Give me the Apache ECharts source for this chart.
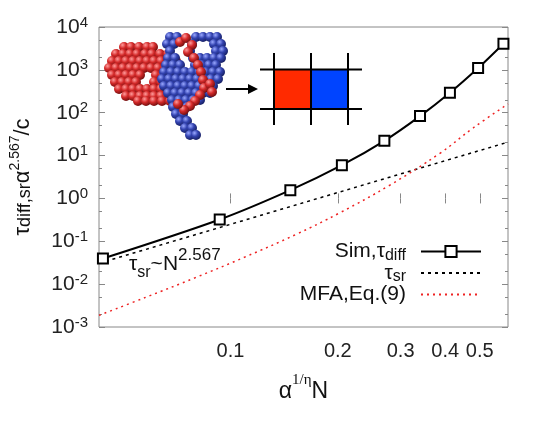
<!DOCTYPE html>
<html>
<head>
<meta charset="utf-8">
<script src="https://cdn.jsdelivr.net/npm/echarts@6/dist/echarts.min.js"></script>
<style>
  html, body { margin: 0; padding: 0; background: #fff; }
  #chart { width: 550px; height: 423px; }
</style>
</head>
<body>
<div id="chart"></div>
<script>
// x range of the plot
var xMin = 0.0428, xMax = 0.6;
var yMin = 0.001, yMax = 10000;

// simulation, tau_diff
var simX = [0.0439, 0.0933, 0.1472, 0.2053, 0.2701, 0.340, 0.4124, 0.4947, 0.5826];
var simY = [0.0395, 0.322, 1.56, 5.97, 22.1, 83.4, 292, 1102, 4074];

// tau_sr ~ N^2.567 (straight dashed line)
var srX = [0.0428, 0.6];
var srY = [0.0307, 20.6];

// MFA, Eq.(9)
var mfaX = [0.0428, 0.0578, 0.0798, 0.110, 0.152, 0.203, 0.280, 0.3866, 0.479, 0.600];
var mfaY = [0.00187, 0.00491, 0.0142, 0.0432, 0.142, 0.466, 2.05, 11.3, 44, 160];

// tick positions
var xTicks = [0.1, 0.2, 0.3, 0.4, 0.5];
var yMajor = [0.001, 0.01, 0.1, 1, 10, 100, 1000, 10000];
var yMinor = [0.002, 0.005, 0.02, 0.05, 0.2, 0.5, 2, 5, 20, 50, 200, 500, 2000, 5000];

var FONT = 'Liberation Sans';
var tickColor = '#888';

function pairs(xs, ys) {
    var out = [];
    for (var i = 0; i < xs.length; i++) out.push([xs[i], ys[i]]);
    return out;
}
function logs(arr) { return arr.map(function (v) { return Math.log10(v); }); }

// extra value axes (in log10 space) used only for ticks and labels
function tickAxis(pos, min, max, vals, len, labels) {
    return {
        type: 'value', position: pos, min: min, max: max,
        axisLine: { show: false },
        splitLine: { show: false },
        axisTick: { show: true, inside: true, length: len, customValues: vals,
            lineStyle: { color: tickColor, width: 1 } },
        axisLabel: labels || { show: false }
    };
}

var mychart = echarts.init(document.getElementById('chart'));

// inset: polymer made of spheres
var redRows = [
    [47, [124, 131, 139, 147, 153]],
    [54, [116, 123, 130, 137, 145, 152, 160, 168]],
    [61, [112, 119, 126, 133, 140, 147, 154, 161, 169, 176]],
    [68, [109, 116, 123, 130, 137, 144, 151, 158, 165, 172]],
    [75, [112, 119, 126, 133, 140, 156, 163, 170]],
    [82, [115, 122, 129, 136, 154, 161, 168]],
    [89, [119, 126, 133, 140, 147, 154, 161, 168, 175]],
    [96, [126, 133, 140, 147, 154, 161, 168, 176]],
    [101, [138, 146, 154, 162, 170]]
];
var blueRows = [
    [37, [170, 177, 196, 203, 210, 217]],
    [44, [167, 174, 192, 214, 221]],
    [51, [170, 190, 216, 223]],
    [58, [168, 175, 193, 200, 207, 214, 221]],
    [65, [166, 173, 180, 195, 202, 209, 216]],
    [72, [164, 171, 178, 185, 192, 199, 206, 213, 220]],
    [79, [162, 169, 176, 183, 190, 197, 204, 211, 218]],
    [86, [164, 171, 178, 185, 192, 199, 206, 213]],
    [93, [168, 175, 182, 189, 196, 203, 210]],
    [100, [172, 179, 186, 193, 200]],
    [107, [173, 180, 187]],
    [114, [176, 183]],
    [121, [180, 187]],
    [128, [185, 192]],
    [135, [190, 196]]
];
var redStrand = [[180, 42], [186, 38], [192, 45], [188, 52], [194, 58], [198, 65], [201, 72],
    [203, 80], [204, 88], [200, 95], [195, 101], [190, 106], [184, 110], [178, 104], [210, 84], [212, 92]];

function sphereFill(c) {
    return { type: 'radial', x: 0.35, y: 0.3, r: 0.75, colorStops: c == 'r'
        ? [{ offset: 0, color: '#ff9c9c' }, { offset: 0.45, color: '#d42a2a' }, { offset: 1, color: '#6a0c0c' }]
        : [{ offset: 0, color: '#9aa8ff' }, { offset: 0.45, color: '#3343b0' }, { offset: 1, color: '#141c5c' }] };
}
var inset = [];
function addSphere(x, y, c) {
    inset.push({ type: 'circle', shape: { cx: x, cy: y, r: 5 }, style: { fill: sphereFill(c) }, z: 10 });
}
redRows.forEach(function (row) { row[1].forEach(function (x) { addSphere(x, row[0], 'r'); }); });
blueRows.forEach(function (row) { row[1].forEach(function (x) { addSphere(x, row[0], 'b'); }); });
redStrand.forEach(function (p) { addSphere(p[0], p[1], 'r'); });

// arrow and the two-cell lattice
inset.push({ type: 'line', shape: { x1: 226, y1: 89, x2: 250, y2: 89 }, style: { stroke: '#000', lineWidth: 2 }, z: 10 });
inset.push({ type: 'polygon', shape: { points: [[248, 84], [258, 89], [248, 94]] }, style: { fill: '#000' }, z: 10 });
inset.push({ type: 'rect', shape: { x: 274, y: 69.5, width: 37, height: 39.5 }, style: { fill: '#ff2a00' }, z: 10 });
inset.push({ type: 'rect', shape: { x: 311, y: 69.5, width: 37, height: 39.5 }, style: { fill: '#0044ff' }, z: 10 });
[69.5, 109].forEach(function (y) {
    inset.push({ type: 'line', shape: { x1: 260, y1: y, x2: 362, y2: y }, style: { stroke: '#000', lineWidth: 2 }, z: 11 });
});
[274, 311, 348].forEach(function (x) {
    inset.push({ type: 'line', shape: { x1: x, y1: 53, x2: x, y2: 125 }, style: { stroke: '#000', lineWidth: 2 }, z: 11 });
});

// tau_sr ~ N^2.567 annotation
inset.push({
    type: 'text', x: 129, y: 264, z: 12,
    style: {
        text: '{n|τ}{sub|sr}{n|~N}{sup|2.567}',
        verticalAlign: 'middle', fill: '#111',
        rich: {
            n: { fontFamily: FONT, fontSize: 21, lineHeight: 34, verticalAlign: 'middle', fill: '#111' },
            sub: { fontFamily: FONT, fontSize: 16, lineHeight: 14, verticalAlign: 'bottom', fill: '#111' },
            sup: { fontFamily: FONT, fontSize: 17, lineHeight: 13, verticalAlign: 'top', fill: '#111' }
        }
    }
});

var legendNames = {
    'Sim': '{n|Sim,τ}{sub|diff}',
    'tsr': '{n|τ}{sub|sr}',
    'MFA': '{n|MFA,Eq.(9)}'
};

mychart.setOption({
    animation: false,
    grid: { left: 98, right: 42, top: 27, bottom: 96, show: true, borderColor: tickColor, borderWidth: 1 },
    legend: {
        orient: 'vertical', align: 'right', right: 68, top: 241, padding: 0,
        itemWidth: 60, itemHeight: 14, itemGap: -1,
        data: [
            { name: 'Sim' },
            { name: 'tsr', itemStyle: { opacity: 0 } },
            { name: 'MFA', itemStyle: { opacity: 0 } }
        ],
        formatter: function (name) { return legendNames[name]; },
        textStyle: {
            padding: [0, 10, 0, 0],
            rich: {
                n: { fontFamily: FONT, fontSize: 21, lineHeight: 24, color: '#111' },
                sub: { fontFamily: FONT, fontSize: 16, lineHeight: 13, verticalAlign: 'bottom', color: '#111' }
            }
        }
    },
    xAxis: [
        { type: 'log', min: xMin, max: xMax,
          axisLine: { show: false }, axisTick: { show: false }, axisLabel: { show: false }, splitLine: { show: false } },
        tickAxis('bottom', Math.log10(xMin), Math.log10(xMax), logs(xTicks), 5, {
            show: true, customValues: logs(xTicks), margin: 13,
            fontFamily: FONT, fontSize: 20, lineHeight: 22, color: '#222',
            formatter: function (v) { return (Math.round(Math.pow(10, v) * 10) / 10).toFixed(1); }
        }),
        tickAxis('top', Math.log10(xMin), Math.log10(xMax), logs(xTicks), 5)
    ],
    yAxis: [
        { type: 'log', min: yMin, max: yMax, interval: 1, logBase: 10,
          axisLine: { show: false }, splitLine: { show: false },
          axisTick: { show: true, inside: true, length: 6, lineStyle: { color: tickColor } },
          axisLabel: {
              margin: 11,
              formatter: function (v) { return '{b|10}{s|' + Math.round(Math.log10(v)) + '}'; },
              rich: {
                  b: { fontFamily: FONT, fontSize: 21, lineHeight: 24, color: '#222' },
                  s: { fontFamily: FONT, fontSize: 15, lineHeight: 14, verticalAlign: 'top', color: '#222' }
              }
          },
          name: '{n|τ}{sub|diff,sr}{n|α}{sup|2.567}{n|/c}',
          nameLocation: 'middle', nameRotate: 90, nameGap: 65,
          nameTextStyle: {
              rich: {
                  n: { fontFamily: FONT, fontSize: 22, lineHeight: 26, verticalAlign: 'bottom', color: '#111' },
                  sub: { fontFamily: FONT, fontSize: 18, lineHeight: 15, verticalAlign: 'bottom', color: '#111' },
                  sup: { fontFamily: FONT, fontSize: 14, lineHeight: 14, verticalAlign: 'top', color: '#111' }
              }
          }
        },
        tickAxis('left', -3, 4, logs(yMinor), 3),
        tickAxis('right', -3, 4, logs(yMajor), 6),
        tickAxis('right', -3, 4, logs(yMinor), 3)
    ],
    graphic: { elements: inset },
    series: [
        { name: 'Sim', type: 'line', xAxisIndex: 0, yAxisIndex: 0,
          data: pairs(simX, simY), smooth: 0.3,
          symbol: 'rect', symbolSize: 10,
          lineStyle: { color: '#000', width: 2 },
          itemStyle: { color: '#fff', borderColor: '#000', borderWidth: 2 },
          z: 5 },
        { name: 'tsr', type: 'line', xAxisIndex: 0, yAxisIndex: 0,
          data: pairs(srX, srY), symbol: 'none',
          lineStyle: { color: '#000', width: 1.5, type: [3, 4] },
          itemStyle: { color: '#000' } },
        { name: 'MFA', type: 'line', xAxisIndex: 0, yAxisIndex: 0,
          data: pairs(mfaX, mfaY), symbol: 'none', smooth: 0.4,
          lineStyle: { color: '#ee2222', width: 1.5, type: [2, 4] },
          itemStyle: { color: '#ee2222' } }
    ]
});

// x axis title: alpha^{1/eta} N
mychart.setOption({
    xAxis: [{}, {
        name: '{n|α}{sup|1/η}{n|N}', nameLocation: 'middle', nameGap: 46,
        nameTextStyle: {
            rich: {
                n: { fontFamily: FONT, fontSize: 23, lineHeight: 30, verticalAlign: 'bottom', color: '#111' },
                sup: { fontFamily: 'Liberation Serif', fontSize: 15, lineHeight: 14, verticalAlign: 'top', color: '#111' }
            }
        }
    }, {}]
});
</script>
</body>
</html>
